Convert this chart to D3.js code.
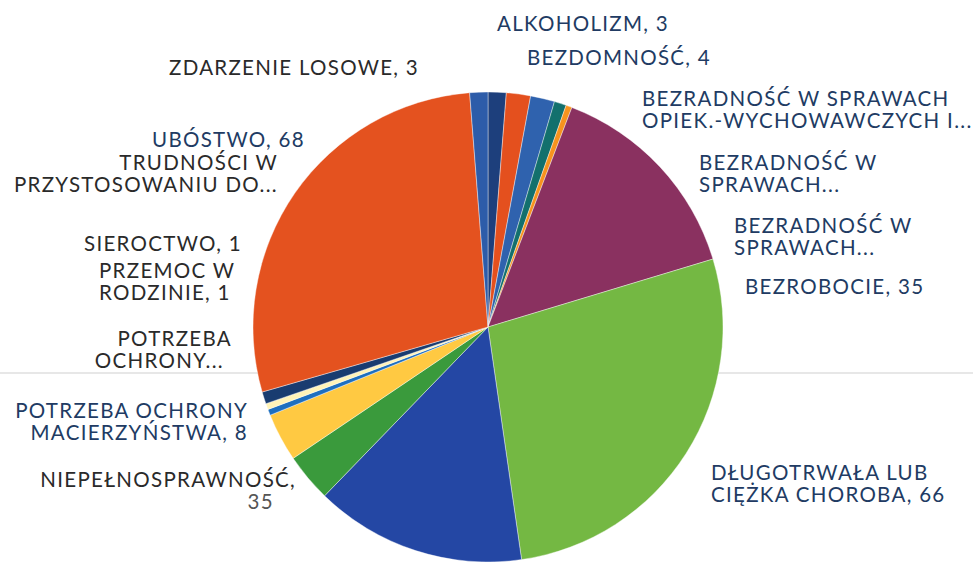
<!DOCTYPE html>
<html>
<head>
<meta charset="utf-8">
<script src="https://cdn.jsdelivr.net/npm/d3@7"></script>
<style>
  body { margin: 0; background: #fff; }
  svg { display: block; }
  .lbl { font-family: Lato, "Open Sans", sans-serif; font-size: 20.5px; letter-spacing: 1.3px; }
</style>
</head>
<body>
<svg id="pie" width="973" height="562"></svg>
<script>
// slice order = clockwise from 12 o'clock
const categories = [
  "ALKOHOLIZM", "BEZDOMNOŚĆ", "BEZRADNOŚĆ W SPRAWACH OPIEK.-WYCHOWAWCZYCH I...",
  "BEZRADNOŚĆ W SPRAWACH...", "BEZRADNOŚĆ W SPRAWACH...", "BEZROBOCIE",
  "DŁUGOTRWAŁA LUB CIĘŻKA CHOROBA", "NIEPEŁNOSPRAWNOŚĆ", "POTRZEBA OCHRONY MACIERZYŃSTWA",
  "POTRZEBA OCHRONY...", "PRZEMOC W RODZINIE", "SIEROCTWO",
  "TRUDNOŚCI W PRZYSTOSOWANIU DO...", "UBÓSTWO", "ZDARZENIE LOSOWE"
];
const values = [3, 4, 4, 2, 1, 35, 66, 35, 8, 8, 1, 1, 2, 68, 3];
const colors = [
  "#1d3f7c", "#e4501e", "#2f62ae", "#13706d", "#f7931e", "#8a3160",
  "#74b843", "#2447a4", "#3a9a3c", "#ffc942", "#1e6fbf", "#fff3b8",
  "#193c70", "#e4521f", "#2d5ca9"
];
// label text as it is wrapped in the chart
const labelLines = [
  ["ALKOHOLIZM, 3"],
  ["BEZDOMNOŚĆ, 4"],
  ["BEZRADNOŚĆ W SPRAWACH", "OPIEK.-WYCHOWAWCZYCH I..."],
  ["BEZRADNOŚĆ W", "SPRAWACH..."],
  ["BEZRADNOŚĆ W", "SPRAWACH..."],
  ["BEZROBOCIE, 35"],
  ["DŁUGOTRWAŁA LUB", "CIĘŻKA CHOROBA, 66"],
  ["NIEPEŁNOSPRAWNOŚĆ,", "35"],
  ["POTRZEBA OCHRONY", "MACIERZYŃSTWA, 8"],
  ["POTRZEBA", "OCHRONY..."],
  ["PRZEMOC W", "RODZINIE, 1"],
  ["SIEROCTWO, 1"],
  ["TRUDNOŚCI W", "PRZYSTOSOWANIU DO..."],
  ["UBÓSTWO, 68"],
  ["ZDARZENIE LOSOWE, 3"]
];

// label placement (x, first baseline, anchor, extra dx per line), text colour
const navy = "#213b63", dark = "#2a2a2a";
const labelLayout = [
  { x: 497, y: 31, a: "start", c: navy },
  { x: 527, y: 65, a: "start", c: navy },
  { x: 642, y: 106, a: "start", c: navy },
  { x: 699, y: 170, a: "start", c: navy },
  { x: 734, y: 233, a: "start", c: navy },
  { x: 745, y: 294, a: "start", c: navy },
  { x: 711, y: 480, a: "start", c: navy },
  { x: 296, y: 487, a: "end", c: dark, dx: [0, -22], c2: "#555" },
  { x: 248, y: 418, a: "end", c: navy },
  { x: 232, y: 346, a: "end", c: dark, dx: [0, -8] },
  { x: 99, y: 278, a: "start", c: dark },
  { x: 84, y: 251, a: "start", c: dark },
  { x: 278, y: 170, a: "end", c: dark },
  { x: 152, y: 147, a: "start", c: navy },
  { x: 169, y: 75, a: "start", c: dark }
];

const svg = d3.select('#pie');
const width = +svg.attr('width');
const cx = 488, cy = 327, radius = 235;
const lineH = 22;

// faint scan line across the page
svg.append('line')
  .attr('x1', 0).attr('x2', width)
  .attr('y1', 373).attr('y2', 373)
  .attr('stroke', '#cfcfcf')
  .attr('stroke-width', 1.2);

const pie = d3.pie().sort(null).value(d => d);
const arc = d3.arc().innerRadius(0).outerRadius(radius);

const g = svg.append('g').attr('transform', `translate(${cx},${cy})`);

g.selectAll('path')
  .data(pie(values))
  .enter().append('path')
  .attr('d', arc)
  .attr('fill', (d, i) => colors[i])
  .attr('stroke', '#fff')
  .attr('stroke-width', 0.4);

const labels = svg.append('g');
labelLines.forEach((lines, i) => {
  const L = labelLayout[i];
  const t = labels.append('text')
    .attr('class', 'lbl')
    .attr('text-anchor', L.a)
    .attr('fill', L.c);
  lines.forEach((s, j) => {
    t.append('tspan')
      .attr('x', L.x + (L.dx ? L.dx[j] : 0))
      .attr('y', L.y + j * lineH)
      .attr('fill', j > 0 && L.c2 ? L.c2 : null)
      .text(s);
  });
});
</script>
</body>
</html>
